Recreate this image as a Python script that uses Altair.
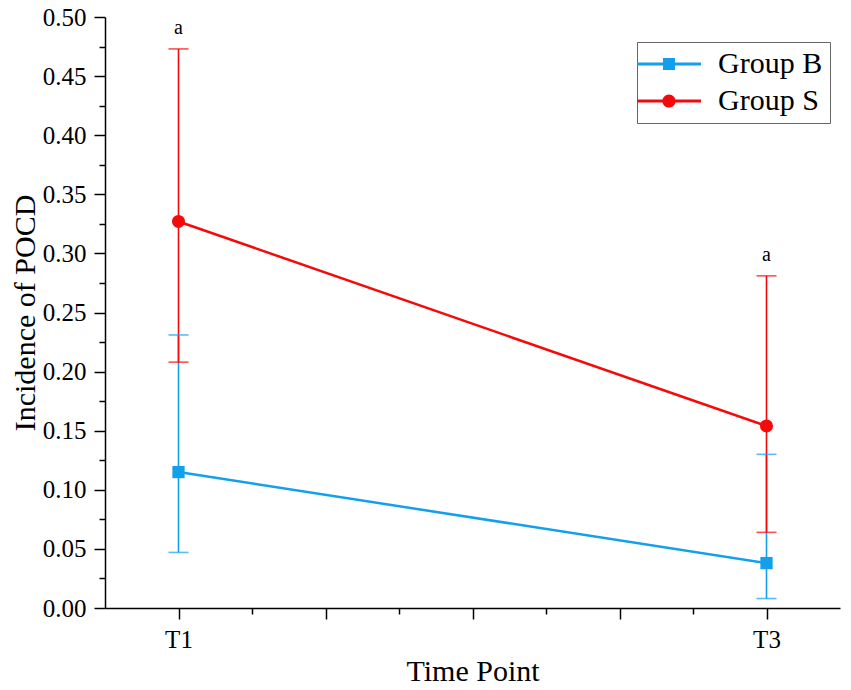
import altair as alt
import pandas as pd

# ---- data ----
time_labels = ["T1", "T3"]
time_pos = [1, 3]
groups = ["Group B", "Group S"]
b_mean = [0.115, 0.038]
b_lo = [0.047, 0.008]
b_hi = [0.231, 0.130]
s_mean = [0.327, 0.154]
s_lo = [0.208, 0.064]
s_hi = [0.473, 0.281]
s_sig = ["a", "a"]

BLUE = "#12A0EC"
RED = "#F40A0A"
FONT = "Liberation Serif"

rows = []
for i, t in enumerate(time_labels):
    rows.append(dict(group="Group B", time=t, x=time_pos[i], mean=b_mean[i], lo=b_lo[i], hi=b_hi[i], sig=""))
for i, t in enumerate(time_labels):
    rows.append(dict(group="Group S", time=t, x=time_pos[i], mean=s_mean[i], lo=s_lo[i], hi=s_hi[i], sig=s_sig[i]))
df = pd.DataFrame(rows)

xscale = alt.Scale(domain=[0.75, 3.25], nice=False, zero=False)
yscale = alt.Scale(domain=[0, 0.5], nice=False, zero=True)
cscale = alt.Scale(domain=groups, range=[BLUE, RED])

x_major = [1, 1.5, 2, 2.5, 3]
x_minor = [1.25, 1.75, 2.25, 2.75]
y_major = [round(i * 0.05, 2) for i in range(11)]
y_minor = [round(0.025 + i * 0.05, 3) for i in range(10)]

axis_style = dict(grid=False, domainColor="black", domainWidth=1.5, tickColor="black", tickWidth=1.5,
                  labelFont=FONT, labelFontSize=25, labelColor="black",
                  titleFont=FONT, titleFontSize=30, titleFontWeight="normal", titleColor="black")

x_axis_major = alt.Axis(values=x_major, tickSize=11,
                        labelExpr="datum.value == 1 ? 'T1' : datum.value == 3 ? 'T3' : ''",
                        title="Time Point", orient="bottom", labelPadding=8,
                        titleBaseline="alphabetic", titleY=72, **axis_style)
y_axis_major = alt.Axis(values=y_major, tickSize=11, format=".2f", title="Incidence of POCD", orient="left",
                        labelPadding=8, titleBaseline="alphabetic", titleX=-71, **axis_style)
x_axis_minor = alt.Axis(values=x_minor, tickSize=6, labels=False, title=None, orient="bottom", domain=False,
                        grid=False, tickColor="black", tickWidth=1.5)
y_axis_minor = alt.Axis(values=y_minor, tickSize=6, labels=False, title=None, orient="left", domain=False,
                        grid=False, tickColor="black", tickWidth=1.5)

base = alt.Chart(df)

line_size = 2.5
color_nolegend = alt.Color("group:N", scale=cscale, legend=None)

rules = base.mark_rule(strokeWidth=1.6).encode(
    x=alt.X("x:Q", scale=xscale, axis=None),
    y=alt.Y("lo:Q", scale=yscale, axis=None),
    y2="hi:Q",
    color=color_nolegend,
)
caps_lo = base.mark_tick(orient="horizontal", size=20, thickness=1.6).encode(
    x=alt.X("x:Q", scale=xscale, axis=None),
    y=alt.Y("lo:Q", scale=yscale, axis=None),
    color=color_nolegend,
)
caps_hi = base.mark_tick(orient="horizontal", size=20, thickness=1.6).encode(
    x=alt.X("x:Q", scale=xscale, axis=None),
    y=alt.Y("hi:Q", scale=yscale, axis=None),
    color=color_nolegend,
)
lines = base.mark_line(strokeWidth=line_size).encode(
    x=alt.X("x:Q", scale=xscale, axis=x_axis_major),
    y=alt.Y("mean:Q", scale=yscale, axis=y_axis_major),
    color=color_nolegend,
    detail="group:N",
)
pts_b = base.transform_filter(alt.datum.group == "Group B").mark_point(
    shape="square", filled=True, size=150, opacity=1).encode(
    x=alt.X("x:Q", scale=xscale, axis=None),
    y=alt.Y("mean:Q", scale=yscale, axis=None),
    color=color_nolegend,
)
pts_s = base.transform_filter(alt.datum.group == "Group S").mark_point(
    shape="circle", filled=True, size=170, opacity=1).encode(
    x=alt.X("x:Q", scale=xscale, axis=None),
    y=alt.Y("mean:Q", scale=yscale, axis=None),
    color=color_nolegend,
)
sig = base.transform_filter(alt.datum.sig != "").mark_text(
    font=FONT, fontSize=20, color="black", dy=-15, baseline="alphabetic").encode(
    x=alt.X("x:Q", scale=xscale, axis=None),
    y=alt.Y("hi:Q", scale=yscale, axis=None),
    text="sig:N",
)

# legend symbols: line with square / circle marker (unit = sqrt(size)/2 px)
sq_path = ("M-3.2,-0.14 L3.2,-0.14 L3.2,0.14 L-3.2,0.14 Z "
           "M-0.6,-0.6 L0.6,-0.6 L0.6,0.6 L-0.6,0.6 Z")
ci_path = ("M-3.2,-0.14 L3.2,-0.14 L3.2,0.14 L-3.2,0.14 Z "
           "M0.66,0 A0.66,0.66 0 1,1 -0.66,0 A0.66,0.66 0 1,1 0.66,0 Z")

leg_kw = dict(orient="none", legendX=532, legendY=25, title=None,
              labelFont=FONT, labelFontSize=30, labelColor="black",
              labelExpr="datum.label + '\u00a0\u00a0'",
              symbolSize=400, symbolOpacity=1, symbolStrokeWidth=0,
              symbolOffset=10, labelOffset=34, rowPadding=7,
              strokeColor="#666666", padding=7, fillColor="white",
              labelLimit=300)

legend_layer = base.mark_point(filled=True, opacity=0, size=1).encode(
    x=alt.X("x:Q", scale=xscale, axis=x_axis_minor),
    y=alt.Y("mean:Q", scale=yscale, axis=y_axis_minor),
    color=alt.Color("group:N", scale=cscale, legend=alt.Legend(**leg_kw)),
    shape=alt.Shape("group:N", scale=alt.Scale(domain=groups, range=[sq_path, ci_path]),
                    legend=alt.Legend(**leg_kw)),
)

chart = alt.layer(
    legend_layer, rules, caps_lo, caps_hi, lines, pts_b, pts_s, sig
).resolve_axis(x="independent", y="independent").properties(
    width=735, height=591,
    autosize=alt.AutoSizeParams(type="none"),
    padding={"left": 97, "top": 9, "right": 3, "bottom": 82},
).configure(background="white", font=FONT).configure_view(stroke=None).configure_axis(
    grid=False, labelFont=FONT, titleFont=FONT)

chart.save("out.html", embed_options={"renderer": "svg", "actions": False})
